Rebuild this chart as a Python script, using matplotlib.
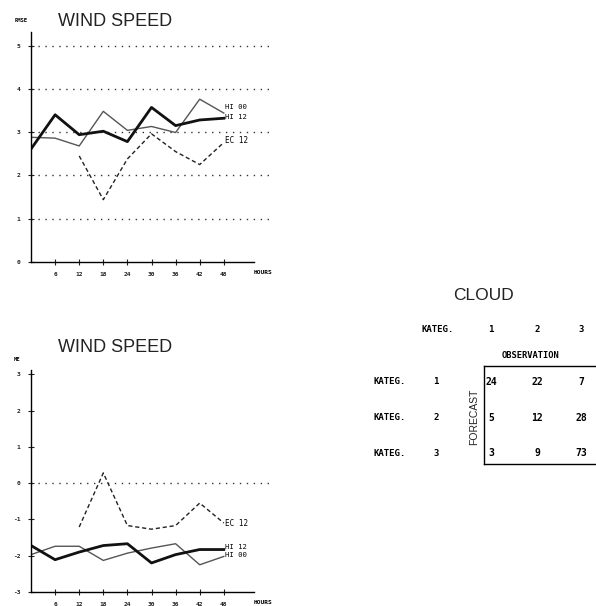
import matplotlib
matplotlib.use("Agg")
import matplotlib.pyplot as plt

# Forecast lead times (hours)
hours = [0, 6, 12, 18, 24, 30, 36, 42, 48]
hours_ec = [12, 18, 24, 30, 36, 42, 48]
tick_hours = [6, 12, 18, 24, 30, 36, 42, 48]

# Wind speed RMSE
rmse_hi12 = [2.61, 3.40, 2.94, 3.02, 2.78, 3.57, 3.15, 3.28, 3.32]
rmse_hi00 = [2.88, 2.86, 2.68, 3.48, 3.04, 3.13, 2.99, 3.76, 3.44]
rmse_ec12 = [2.45, 1.44, 2.38, 2.96, 2.55, 2.25, 2.76]

# Wind speed mean error
me_hi12 = [-1.72, -2.11, -1.90, -1.72, -1.67, -2.20, -1.97, -1.83, -1.83]
me_hi00 = [-1.97, -1.74, -1.74, -2.13, -1.93, -1.79, -1.67, -2.25, -2.02]
me_ec12 = [-1.21, 0.28, -1.17, -1.27, -1.17, -0.55, -1.10]

rmse_ticks = [0, 1, 2, 3, 4, 5]
me_ticks = [-3, -2, -1, 0, 1, 2, 3]

# Cloud contingency table
cloud_categories = ["1", "2", "3"]
cloud_table = [[24, 22, 7],
               [5, 12, 28],
               [3, 9, 73]]

W, H = 596, 606
fig = plt.figure(figsize=(W / 100, H / 100), dpi=100)
fig.patch.set_facecolor("white")

TITLE_FONT = ["Liberation Sans", "DejaVu Sans"]
MONO = ["DejaVu Sans Mono"]


def px_axes(left, bottom_px, right, height_px):
    """Axes from pixel coordinates (bottom measured from top of figure)."""
    return fig.add_axes([left / W, (H - bottom_px) / H,
                         (right - left) / W, height_px / H])


def style_panel(ax, yticks, ylim, ylabel, grid_vals, title, title_y):
    ax.set_xlim(0, 60)
    ax.set_ylim(*ylim)
    ax.patch.set_alpha(0)
    for s in ("top", "right"):
        ax.spines[s].set_visible(False)
    ax.spines["left"].set_bounds(ylim[0], ylim[1] - 0.18)
    ax.spines["bottom"].set_bounds(0, 55.5)
    ax.spines["left"].set_linewidth(1.0)
    ax.spines["bottom"].set_linewidth(1.0)
    ax.set_yticks(yticks)
    ax.set_yticklabels([str(v) for v in yticks], fontsize=4.5,
                       family=MONO, fontweight="bold")
    ax.set_xticks(tick_hours)
    ax.set_xticklabels([str(v) for v in tick_hours], fontsize=4.5,
                       family=MONO, fontweight="bold")
    ax.tick_params(direction="inout", length=5, width=0.8, pad=5,
                   colors="#222222")
    for g in grid_vals:
        ax.axhline(g, xmin=0, xmax=1, color="#333333", lw=1.0,
                   ls=(0, (1, 4)))
    ax.text(1.0, -0.035, "HOURS",
            transform=ax.transAxes, ha="right", va="top", fontsize=4.5,
            family=MONO, fontweight="bold")
    ax.text(-0.07, 1.005, ylabel, transform=ax.transAxes, ha="left",
            va="bottom", fontsize=4, family=MONO, fontweight="bold")
    fig.text(115 / W, 1 - title_y / H, title, ha="center", va="center",
             fontsize=13, family=TITLE_FONT, color="#222222")


# ---- RMSE panel ----
ax1 = px_axes(31, 262, 272, 5.5 * 43.3)
style_panel(ax1, rmse_ticks, (0, 5.5), "RMSE", [1, 2, 3, 4, 5],
            "WIND SPEED", 21)
ax1.plot(hours, rmse_hi00, color="#555555", lw=1.0)
ax1.plot(hours, rmse_hi12, color="#111111", lw=2.0)
ax1.plot(hours_ec, rmse_ec12, color="#222222", lw=1.0, ls=(0, (3, 2)))
ax1.text(48.3, 3.57, "HI 00", fontsize=5.2, family=MONO, va="center")
ax1.text(48.3, 3.35, "HI 12", fontsize=5.2, family=MONO, va="center")
ax1.text(48.3, 2.80, "EC 12", fontsize=5.5, family=MONO, va="center")

# ---- Mean error panel ----
ax2 = px_axes(31, 592, 272, 6.3 * 36.3)
style_panel(ax2, me_ticks, (-3, 3.3), "ME", [0], "WIND SPEED", 347)
ax2.plot(hours, me_hi00, color="#555555", lw=1.0)
ax2.plot(hours, me_hi12, color="#111111", lw=2.0)
ax2.plot(hours_ec, me_ec12, color="#222222", lw=1.0, ls=(0, (3, 2)))
ax2.text(48.3, -1.76, "HI 12", fontsize=5.2, family=MONO, va="center")
ax2.text(48.3, -1.99, "HI 00", fontsize=5.2, family=MONO, va="center")
ax2.text(48.3, -1.10, "EC 12", fontsize=5.5, family=MONO, va="center")

# ---- Cloud contingency table ----
def fx(x):
    return x / W


def fy(y):
    return 1 - y / H


fig.text(fx(483), fy(296), "CLOUD", ha="center", va="center",
         fontsize=12.5, family=TITLE_FONT, color="#222222")
fig.text(fx(438), fy(330), "KATEG.", ha="center", va="center",
         fontsize=6.5, family=MONO, fontweight="bold")
col_x = [491, 537, 581]
row_y = [382, 418, 453]
for cx, cat in zip(col_x, cloud_categories):
    fig.text(fx(cx), fy(330), cat, ha="center", va="center",
             fontsize=6.5, family=MONO, fontweight="bold")
fig.text(fx(530), fy(355), "OBSERVATION", ha="center", va="center",
         fontsize=6.3, family=MONO, fontweight="bold")
for ry, cat in zip(row_y, cloud_categories):
    fig.text(fx(374), fy(ry), "KATEG.", ha="left", va="center",
             fontsize=6.5, family=MONO, fontweight="bold")
    fig.text(fx(436), fy(ry), cat, ha="center", va="center",
             fontsize=6.5, family=MONO, fontweight="bold")
fig.text(fx(474), fy(417), "FORECAST", ha="center", va="center",
         rotation=90, fontsize=7.5, family=TITLE_FONT, color="#222222")
for ry, row in zip(row_y, cloud_table):
    for cx, val in zip(col_x, row):
        fig.text(fx(cx), fy(ry), str(val), ha="center", va="center",
                 fontsize=7, family=MONO, fontweight="bold")

# table frame (open to the right edge)
frame = fig.add_axes([fx(484), fy(464), fx(W - 484 + 10), (464 - 366) / H])
frame.set_xticks([])
frame.set_yticks([])
frame.patch.set_alpha(0)
frame.spines["right"].set_visible(False)
for s in ("left", "top", "bottom"):
    frame.spines[s].set_linewidth(1.0)

fig.savefig("out.png", dpi=100, facecolor="white")
